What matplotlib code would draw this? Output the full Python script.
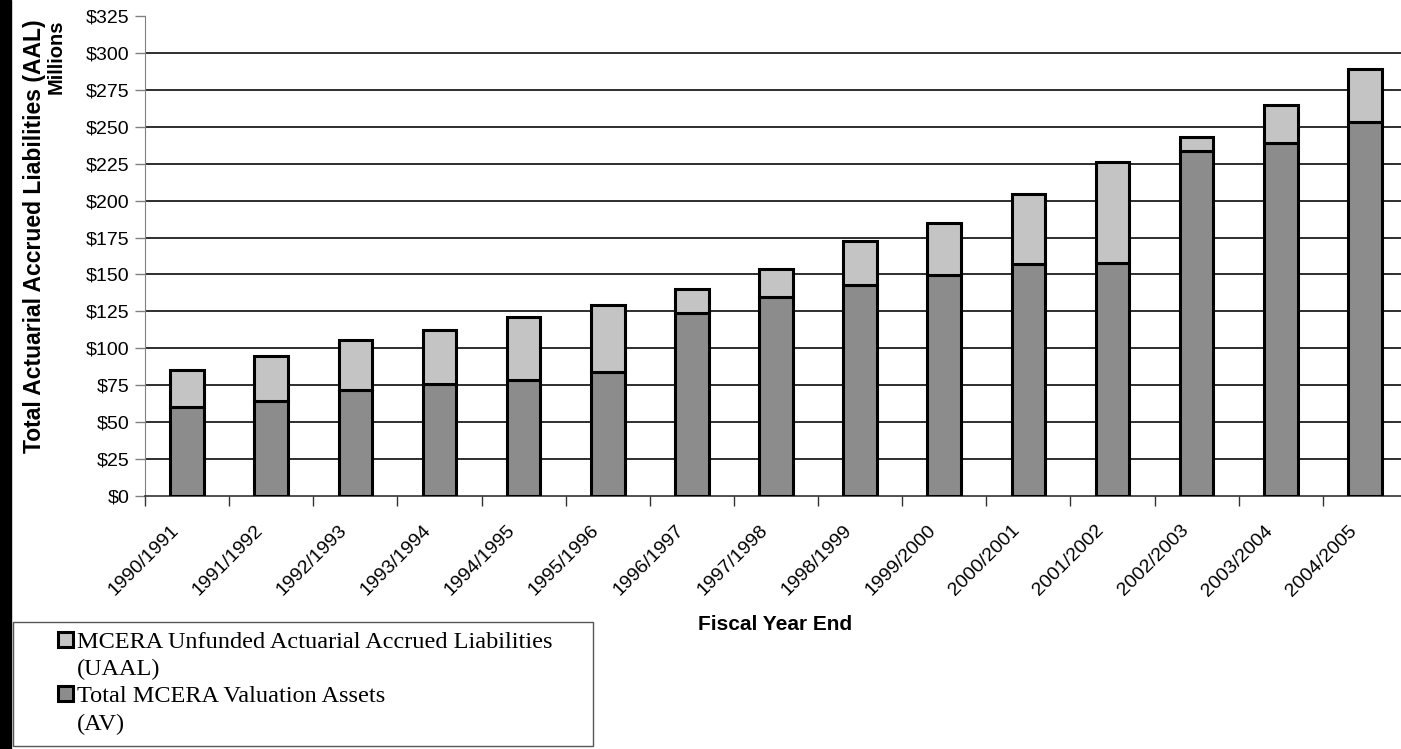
import numpy as np
import matplotlib
matplotlib.use("Agg")
import matplotlib.pyplot as plt
import matplotlib.transforms as mtransforms
from matplotlib.patches import Rectangle
from matplotlib.ticker import FuncFormatter, FixedLocator

# fiscal years and values (in $ millions)
years = ["1990/1991", "1991/1992", "1992/1993", "1993/1994", "1994/1995",
         "1995/1996", "1996/1997", "1997/1998", "1998/1999", "1999/2000",
         "2000/2001", "2001/2002", "2002/2003", "2003/2004", "2004/2005"]
av = [60.0, 64.5, 71.8, 75.8, 78.8, 84.2, 123.7, 134.9, 142.6, 149.6,
      157.1, 157.5, 233.6, 238.8, 253.2]
aal = [85.3, 94.6, 105.6, 112.2, 121.0, 129.3, 140.4, 153.9, 172.9, 185.0,
       204.5, 226.3, 243.0, 264.9, 289.1]
uaal = [t - a for t, a in zip(aal, av)]
yticks = list(range(0, 326, 25))

plt.rcParams['font.family'] = ['Liberation Sans', 'DejaVu Sans']

W, H = 1401, 749
fig = plt.figure(figsize=(W / 100, H / 100), dpi=100)
ax = fig.add_axes([145 / W, 253 / H, 1262 / W, 480 / H])

x = np.arange(len(years))
w = 0.40
b_av = ax.bar(x, av, w, color='#8c8c8c', edgecolor='black', linewidth=2.2, zorder=3)
b_ua = ax.bar(x, uaal, w, bottom=av, color='#c4c4c4', edgecolor='black', linewidth=2.2, zorder=3)

ax.set_xlim(-0.5, len(years) - 0.5)
ax.set_ylim(0, 325)
ax.set_yticks(yticks)
ax.yaxis.set_major_formatter(FuncFormatter(lambda v, p: f"${v:,.0f}"))
ax.tick_params(axis='y', labelsize=14, length=7, width=1, color='#808080', pad=4)

ax.grid(axis='y', color='#1e1e1e', linewidth=1.3, zorder=0)
ax.yaxis.get_gridlines()[-1].set_visible(False)
ax.yaxis.get_gridlines()[0].set_visible(False)

# category labels, rotated, ending just left of each bar centre
ax.set_xticks(x)
ax.set_xticklabels(years, rotation=45, ha='right', va='center',
                   rotation_mode='anchor', fontsize=14)
ax.tick_params(axis='x', which='major', length=0, pad=23)
shift = mtransforms.ScaledTranslation(-0.11, 0, fig.dpi_scale_trans)
for lbl in ax.get_xticklabels():
    lbl.set_transform(lbl.get_transform() + shift)
ax.xaxis.set_minor_locator(FixedLocator(np.arange(-0.5, len(years), 1.0)))
ax.tick_params(axis='x', which='minor', length=7, width=1, color='#333333')

for s in ['top', 'right']:
    ax.spines[s].set_visible(False)
ax.spines['left'].set_color('#808080')
ax.spines['bottom'].set_color('#333333')
ax.spines['bottom'].set_linewidth(1.2)

fig.text(35 / W, 1 - 236 / H, "Total Actuarial Accrued Liabilities (AAL)",
         rotation=90, ha='center', va='center', fontsize=16.5, fontweight='bold')
fig.text(56 / W, 1 - 57 / H, "Millions", rotation=90, ha='center', va='center',
         fontsize=14.5, fontweight='bold')
fig.text(775 / W, 1 - 625 / H, "Fiscal Year End", ha='center', va='center',
         fontsize=15, fontweight='bold')

# legend: each label wraps onto a second line, marker sits on the first line
blank = Rectangle((0, 0), 1, 1, visible=False)
leg = fig.legend([b_ua, blank, b_av, blank],
                 ["MCERA Unfunded Actuarial Accrued Liabilities", "(UAAL)",
                  "Total MCERA Valuation Assets", "(AV)"],
                 loc='upper left', bbox_to_anchor=(58 / W, 1 - 632 / H),
                 prop={'family': 'Liberation Serif', 'size': 17.5},
                 frameon=False, handlelength=0.62, handleheight=0.55,
                 handletextpad=0.15, borderpad=0, labelspacing=0.25,
                 borderaxespad=0)
fig.patches.append(Rectangle((13 / W, 1 - 746 / H), 580 / W, 124 / H,
                             transform=fig.transFigure, fill=False,
                             edgecolor='#555555', linewidth=1.0))

fig.patches.append(Rectangle((0, 0), 11 / W, 1, transform=fig.transFigure,
                             color='black', zorder=10))

fig.savefig("out.png", dpi=100)
